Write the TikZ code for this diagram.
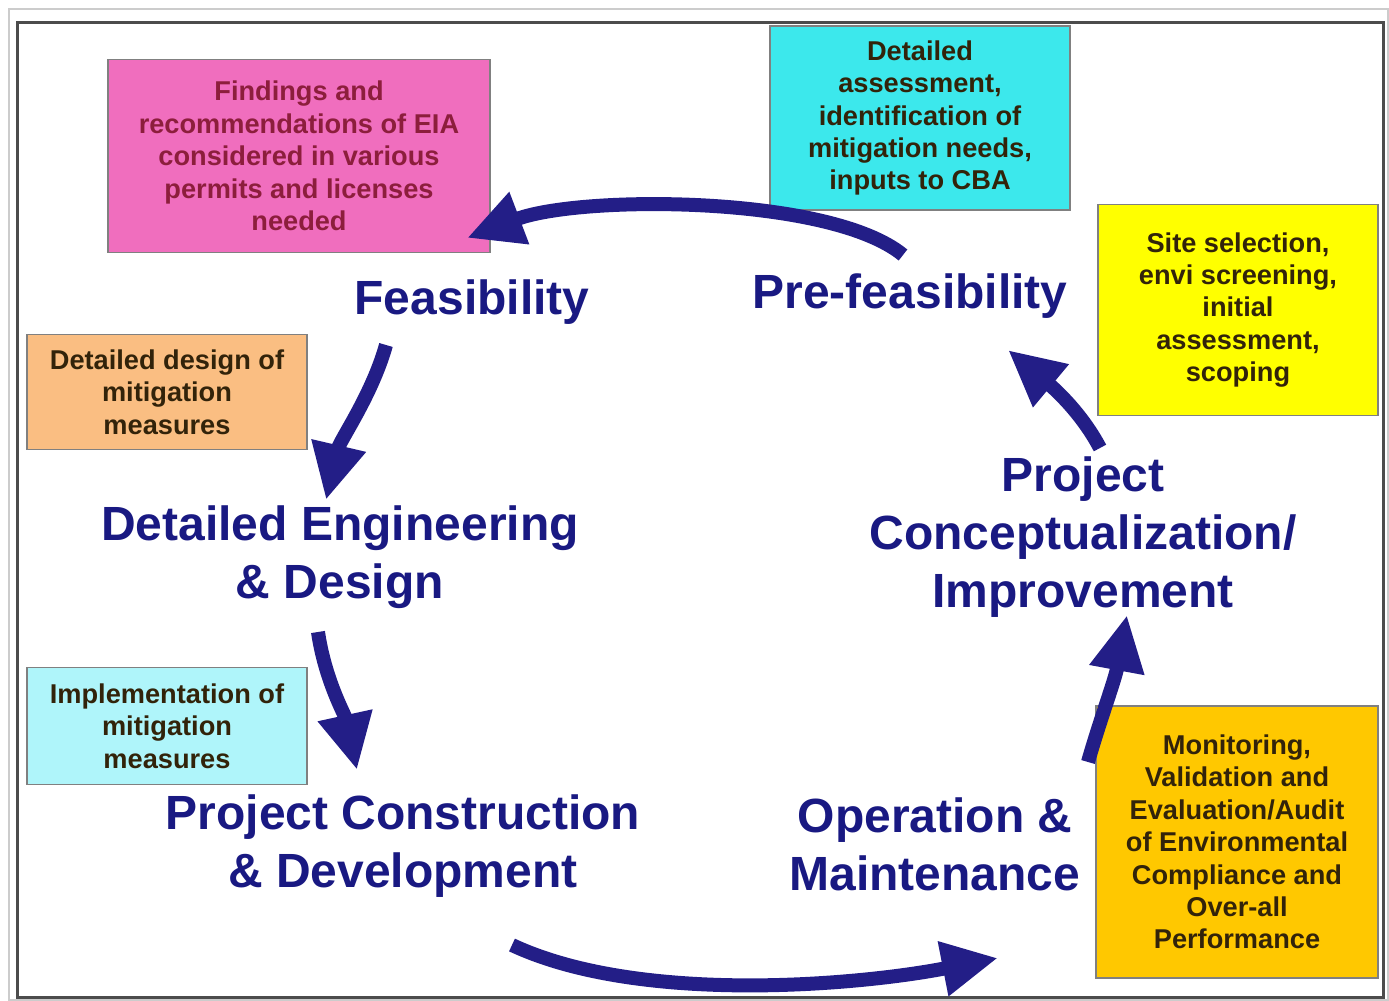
\documentclass[tikz,border=0pt]{standalone}
\usepackage{fontspec}
\setmainfont{Liberation Sans}
\usepackage{color}
\usepackage{tikz}
\usetikzlibrary{arrows.meta}
\definecolor{navy}{RGB}{25,25,130}
\definecolor{arrownavy}{RGB}{35,30,135}
\definecolor{boxpink}{RGB}{240,110,190}
\definecolor{boxcyan}{RGB}{60,232,236}
\definecolor{boxyellow}{RGB}{255,255,0}
\definecolor{boxpeach}{RGB}{250,190,130}
\definecolor{boxlightcyan}{RGB}{175,245,250}
\definecolor{boxgold}{RGB}{255,200,0}
\definecolor{maroontext}{RGB}{140,30,60}
\definecolor{browntext}{RGB}{50,35,10}

\begin{document}
\begin{tikzpicture}[x=0.5pt,y=-0.5pt,
  my box/.style={
    draw=gray, line width=0.6pt, align=center, inner sep=0pt,
    text=browntext, font=\bfseries\fontsize{13.6}{16.2}\selectfont,
  },
  my stage/.style={
    align=center, text=navy, font=\bfseries\fontsize{24}{29}\selectfont,
  },
  my arrow/.style={
    draw=arrownavy, line width=7pt,
    -{Triangle[length=28pt,width=26pt]},
  }]
  \useasboundingbox (0,0) rectangle (1389,1001);
  \draw[gray!40, line width=1pt] (9,9) rectangle (1388,1000);
  \draw[gray!60!black, line width=1.5pt] (17,22) rectangle (1383,997);

  \node[my box, fill=boxpink, text=maroontext, minimum width=191pt, minimum height=96.5pt] (permits) at (299,156)
    {Findings and\\recommendations of EIA\\considered in various\\permits and licenses\\needed};
  \node[my box, fill=boxcyan, minimum width=150pt, minimum height=92pt] (assess) at (920,118)
    {Detailed\\assessment,\\identification of\\mitigation needs,\\inputs to CBA};
  \node[my box, fill=boxyellow, minimum width=140pt, minimum height=105.5pt] (screen) at (1238,310)
    {Site selection,\\envi screening,\\initial\\assessment,\\scoping};
  \node[my box, fill=boxpeach, minimum width=140pt, minimum height=57.5pt] (design) at (167,392)
    {Detailed design of\\mitigation\\measures};
  \node[my box, fill=boxlightcyan, minimum width=140pt, minimum height=58.5pt] (implement) at (167,726)
    {Implementation of\\mitigation\\measures};
  \node[my box, fill=boxgold, minimum width=141pt, minimum height=136pt] (monitor) at (1237,842)
    {Monitoring,\\Validation and\\Evaluation/Audit\\of Environmental\\Compliance and\\Over-all\\Performance};

  \node[my stage] (feas) at (472,302) {Feasibility};
  \node[my stage] (prefeas) at (910,296) {Pre-feasibility};
  \node[my stage] (engineering) at (340,557) {Detailed Engineering\\\& Design};
  \node[my stage] (construction) at (403,846) {Project Construction\\\& Development};
  \node[my stage] (operation) at (935,844) {Operation \&\\Maintenance};
  \node[my stage] (concept) at (1083,537) {Project\\Conceptualization/\\Improvement};

  \coordinate (prefeas-out) at (903,255);
  \coordinate (feas-in) at (467,238);
  \coordinate (feas-out) at (386,345);
  \coordinate (engineering-in) at (326,500);
  \coordinate (engineering-out) at (318,632);
  \coordinate (construction-in) at (357,770);
  \coordinate (construction-out) at (512,945);
  \coordinate (operation-in) at (998,958);
  \coordinate (operation-out) at (1088,762);
  \coordinate (concept-in) at (1127,615);
  \coordinate (concept-out) at (1100,448);
  \coordinate (prefeas-in) at (1008,350);

  \draw[my arrow] (prefeas-out) .. controls (830,195) and (580,195) .. (feas-in);
  \draw[my arrow] (feas-out) .. controls (372,395) and (340,440) .. (engineering-in);
  \draw[my arrow] (engineering-out) .. controls (325,680) and (345,715) .. (construction-in);
  \draw[my arrow] (construction-out) .. controls (640,1005) and (860,985) .. (operation-in);
  \draw[my arrow] (operation-out) .. controls (1100,720) and (1115,680) .. (concept-in);
  \draw[my arrow] (concept-out) .. controls (1080,410) and (1050,385) .. (prefeas-in);
\end{tikzpicture}
\end{document}
